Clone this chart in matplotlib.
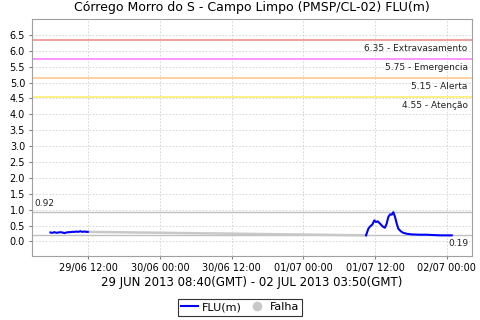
import matplotlib
matplotlib.use('Agg')
import matplotlib.pyplot as plt
import matplotlib.dates as mdates
from matplotlib.lines import Line2D
import pandas as pd

plt.rcParams['font.family'] = ['DejaVu Sans']

# dados (hora local)
t_ini = ['2013-06-29 05:40', '2013-06-29 06:00', '2013-06-29 06:20', '2013-06-29 06:40',
         '2013-06-29 07:00', '2013-06-29 07:20', '2013-06-29 07:40', '2013-06-29 08:00',
         '2013-06-29 08:20', '2013-06-29 08:40', '2013-06-29 09:00', '2013-06-29 09:20',
         '2013-06-29 09:40', '2013-06-29 10:00', '2013-06-29 10:20', '2013-06-29 10:40',
         '2013-06-29 11:00', '2013-06-29 11:20', '2013-06-29 11:40', '2013-06-29 11:55']
v_ini = [0.28, 0.27, 0.29, 0.27, 0.28, 0.29, 0.28, 0.26, 0.28, 0.29,
         0.29, 0.30, 0.30, 0.31, 0.30, 0.32, 0.30, 0.31, 0.30, 0.30]

t_fim = ['2013-07-01 10:30', '2013-07-01 10:53', '2013-07-01 11:10', '2013-07-01 11:33',
         '2013-07-01 11:53', '2013-07-01 12:10', '2013-07-01 12:27', '2013-07-01 12:50',
         '2013-07-01 13:17', '2013-07-01 13:40', '2013-07-01 13:57', '2013-07-01 14:14',
         '2013-07-01 14:31', '2013-07-01 14:48', '2013-07-01 15:04', '2013-07-01 15:21',
         '2013-07-01 15:38', '2013-07-01 15:54', '2013-07-01 16:18', '2013-07-01 16:44',
         '2013-07-01 17:18', '2013-07-01 18:08', '2013-07-01 19:32', '2013-07-01 20:39',
         '2013-07-01 22:53', '2013-07-02 00:50']
v_fim = [0.19, 0.40, 0.47, 0.53, 0.66, 0.61, 0.63, 0.56, 0.47, 0.43, 0.56, 0.77, 0.85,
         0.84, 0.92, 0.77, 0.56, 0.40, 0.32, 0.27, 0.24, 0.22, 0.21, 0.21, 0.19, 0.19]

# falha: ligação entre os dois trechos
t_falha = ['2013-06-29 11:55', '2013-07-01 10:30']
v_falha = [0.30, 0.19]

# cotas de alerta
cotas = [6.35, 5.75, 5.15, 4.55]
nomes = ['Extravasamento', 'Emergencia', 'Alerta', 'Atenção']
cores = ['#f08c8c', '#ff80ff', '#ffc890', '#ffee70']

vmax, vmin = 0.92, 0.19

t_ini = pd.to_datetime(t_ini)
t_fim = pd.to_datetime(t_fim)
t_falha = pd.to_datetime(t_falha)

fig = plt.figure(figsize=(4.8, 3.2), dpi=100)
ax = fig.add_axes([0.0667, 0.2, 0.9166, 0.7406])

ax.set_xlim(pd.Timestamp('2013-06-29 02:35'), pd.Timestamp('2013-07-02 04:14'))
ax.set_ylim(-0.46, 7.0)

ax.grid(True, color='#d0d0d0', linestyle=(0, (2, 2)), linewidth=0.6)
ax.set_axisbelow(True)

for c, n, cor in zip(cotas, nomes, cores):
    ax.axhline(c, color=cor, linewidth=1.2)
    ax.text(0.99, c - 0.13, '%.2f - %s' % (c, n), transform=ax.get_yaxis_transform(),
            ha='right', va='top', fontsize=6.5, color='#222222')

ax.axhline(vmax, color='#c0c0c0', linewidth=1.0)
ax.axhline(vmin, color='#c0c0c0', linewidth=1.0)
ax.text(0.005, vmax + 0.12, '%.2f' % vmax, transform=ax.get_yaxis_transform(),
        ha='left', va='bottom', fontsize=6.5, color='#222222')
ax.text(0.993, vmin - 0.12, '%.2f' % vmin, transform=ax.get_yaxis_transform(),
        ha='right', va='top', fontsize=6.5, color='#222222')

ax.plot(t_falha, v_falha, color='#c8c8c8', linewidth=1.8)
ax.plot(t_ini, v_ini, color='#0000ff', linewidth=1.5)
ax.plot(t_fim, v_fim, color='#0000ff', linewidth=1.5)

ax.set_yticks([0.0, 0.5, 1.0, 1.5, 2.0, 2.5, 3.0, 3.5, 4.0, 4.5, 5.0, 5.5, 6.0, 6.5])
ax.yaxis.set_major_formatter(plt.FormatStrFormatter('%.1f'))
ax.xaxis.set_major_locator(mdates.HourLocator(byhour=[0, 12]))
ax.xaxis.set_major_formatter(mdates.DateFormatter('%d/%m %H:%M'))
ax.tick_params(labelsize=7, length=2, color='#808080', pad=3)

for s in ax.spines.values():
    s.set_color('#a0a0a0')

ax.set_title('Córrego Morro do S - Campo Limpo (PMSP/CL-02) FLU(m)', fontsize=9, pad=6)
ax.set_xlabel('29 JUN 2013 08:40(GMT) - 02 JUL 2013 03:50(GMT)', fontsize=8.5, labelpad=2)

handles = [Line2D([], [], color='#0000ff', linewidth=1.5),
           Line2D([], [], color='#c8c8c8', marker='o', linestyle='none', markersize=6)]
leg = fig.legend(handles, ['FLU(m)', 'Falha'], loc='center', bbox_to_anchor=(0.5, 0.04),
                 ncol=2, fontsize=8, frameon=True, fancybox=False, handlelength=1.5,
                 handletextpad=0.4, columnspacing=0.6, borderpad=0.3)
leg.get_frame().set_edgecolor('black')
leg.get_frame().set_linewidth(0.8)

fig.savefig('out.png', dpi=100)
